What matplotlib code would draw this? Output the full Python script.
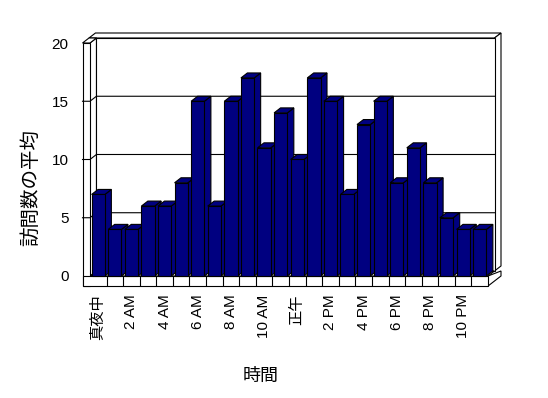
import matplotlib
matplotlib.use('Agg')
import matplotlib.pyplot as plt
from matplotlib.patches import Polygon

plt.rcParams['font.family'] = ['Liberation Sans', 'Noto Sans CJK JP']

# 1時間ごとの訪問数の平均
hours = list(range(24))
visits = [7, 4, 4, 6, 6, 8, 15, 6, 15, 17, 11, 14,
          10, 17, 15, 7, 13, 15, 8, 11, 8, 5, 4, 4]
tick_labels = ['真夜中', '2 AM', '4 AM', '6 AM', '8 AM', '10 AM',
               '正午', '2 PM', '4 PM', '6 PM', '8 PM', '10 PM']
y_ticks = [0, 5, 10, 15, 20]

bar_color = '#000080'
# oblique depth offset (x in categories, y in values)
ddx, ddy = 0.39, 0.43
wall = 0.45      # left wall thickness
floor_t = 0.86   # floor thickness
ymax = 20
n = len(hours)

fig = plt.figure(figsize=(5.48, 3.98), dpi=100)
ax = fig.add_axes([82.5 / 548, (398 - 286) / 398, (501 - 82.5) / 548, (286 - 33) / 398])
ax.set_xlim(-wall, n + 2 * ddx)
ax.set_ylim(-floor_t, ymax + 2 * ddy)
for s in ax.spines.values():
    s.set_visible(False)


def poly(pts, fc='white', z=1):
    ax.add_patch(Polygon(pts, closed=True, facecolor=fc, edgecolor='black',
                         linewidth=0.8, zorder=z, clip_on=False))


# back wall: top and right faces of the slab, then inner face
poly([(-wall + ddx, ymax + ddy), (-wall + 2 * ddx, ymax + 2 * ddy),
      (n + 2 * ddx, ymax + 2 * ddy), (n + ddx, ymax + ddy)], z=1)
poly([(n + ddx, ddy), (n + 2 * ddx, 2 * ddy), (n + 2 * ddx, ymax + 2 * ddy),
      (n + ddx, ymax + ddy)], z=1)
poly([(ddx, ddy), (n + ddx, ddy), (n + ddx, ymax + ddy), (ddx, ymax + ddy)], z=1)

# floor slab right face and top
poly([(n, -floor_t), (n + 2 * ddx, -floor_t + 2 * ddy), (n + 2 * ddx, ddy),
      (n, 0)], z=0.9)
poly([(0, 0), (n, 0), (n + ddx, ddy), (ddx, ddy)], z=1.1)

# left wall inner face, top and front
poly([(0, 0), (ddx, ddy), (ddx, ymax + ddy), (0, ymax)], z=1.2)
poly([(-wall, ymax), (0, ymax), (ddx, ymax + ddy), (-wall + ddx, ymax + ddy)], z=1.3)
poly([(-wall, -floor_t), (0, -floor_t), (0, ymax), (-wall, ymax)], z=1.3)

# gridlines on left wall and back wall
for v in y_ticks[1:-1]:
    ax.plot([-wall, 0, ddx, n + ddx], [v, v, v + ddy, v + ddy],
            color='black', lw=0.8, zorder=1.5, clip_on=False)

# floor front face with category ticks
poly([(-wall, -floor_t), (n, -floor_t), (n, 0), (-wall, 0)], z=1.3)
for i in range(1, n):
    ax.plot([i, i], [-floor_t, 0], color='black', lw=0.8, zorder=1.4)

# bars
bw = 0.8
bars = ax.bar([h + 0.1 for h in hours], visits, width=bw, align='edge',
              color=bar_color, edgecolor='black', linewidth=0.8)
for i, (h, v) in enumerate(zip(hours, visits)):
    x0 = h + 0.1
    x1 = x0 + bw
    z = 2 + i * 0.1
    poly([(x1, 0), (x1 + ddx, ddy), (x1 + ddx, v + ddy), (x1, v)], fc=bar_color, z=z)
    poly([(x0, v), (x1, v), (x1 + ddx, v + ddy), (x0 + ddx, v + ddy)], fc=bar_color, z=z)
    bars[i].set_zorder(z + 0.05)

ax.set_yticks(y_ticks)
ax.set_yticklabels([str(t) for t in y_ticks], fontsize=11)
ax.set_xticks([h + 0.5 for h in hours[::2]])
ax.set_xticklabels(tick_labels, rotation=90, fontsize=11, va='top')
ax.tick_params(axis='y', length=0, pad=10)
ax.tick_params(axis='x', length=0, pad=6)

ax.set_ylabel('訪問数の平均', fontsize=14)
ax.yaxis.set_label_coords(-0.1, 0.39)
ax.set_xlabel('時間', fontsize=13)
ax.xaxis.set_label_coords(0.425, -0.325)

fig.savefig('out.png', dpi=100)
